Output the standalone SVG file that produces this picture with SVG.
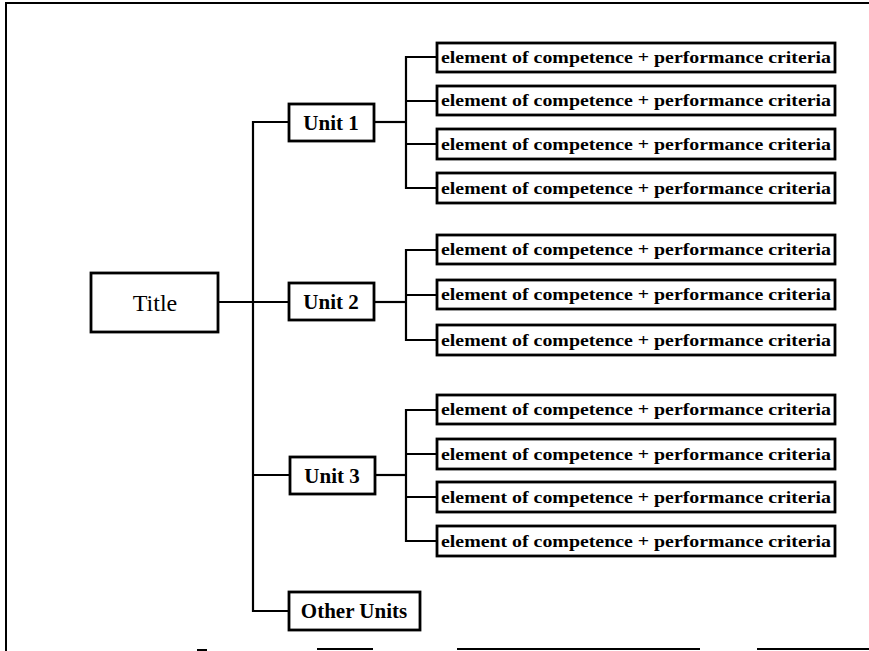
<svg xmlns="http://www.w3.org/2000/svg" width="869" height="651" viewBox="0 0 869 651">
<style>
.box{fill:#fff;stroke:#000;stroke-width:2.8}
.ln{fill:none;stroke:#000;stroke-width:2.2}
.frame{fill:none;stroke:#000;stroke-width:2}
.t{font-family:"Liberation Serif","Times New Roman",serif;font-weight:bold;fill:#000;text-anchor:middle}
.el{font-size:17.5px}
.u{font-size:21px}
.ti{font-size:24px;font-weight:normal}
</style>
<rect width="869" height="651" fill="#fff"/>
<g id="frame">
<path class="frame" d="M6 651 V3 H869"/>
<path class="frame" d="M197 650 H207 M317 649 H373 M457 649 H700 M757 649 H869"/>
</g>
<g id="connectors">
<path class="ln" d="M218 302 H289"/>
<path class="ln" d="M289 122 H253 V611 H289"/>
<path class="ln" d="M253 475 H290"/>
<path class="ln" d="M374 122 H406"/>
<path class="ln" d="M437 57 H406 V188 H437 M406 101 H437 M406 144 H437"/>
<path class="ln" d="M374 302 H406"/>
<path class="ln" d="M437 250 H406 V340 H437 M406 295 H437"/>
<path class="ln" d="M375 475 H406"/>
<path class="ln" d="M437 410 H406 V541 H437 M406 454 H437 M406 497 H437"/>
</g>
<g id="title"><rect class="box" x="91" y="273" width="127" height="59"/><text class="t ti" x="155" y="311">Title</text></g>
<g id="unit1"><rect class="box" x="289" y="104" width="85" height="37"/><text class="t u" x="331" y="130">Unit 1</text></g>
<g id="unit2"><rect class="box" x="289" y="283" width="85" height="37"/><text class="t u" x="331" y="309">Unit 2</text></g>
<g id="unit3"><rect class="box" x="290" y="457" width="85" height="37"/><text class="t u" x="332" y="483">Unit 3</text></g>
<g id="other"><rect class="box" x="289" y="592" width="131" height="38"/><text class="t u" x="354" y="618">Other Units</text></g>
<g id="e1a"><rect class="box" x="437" y="43" width="398" height="29"/><text class="t el" x="636" y="63" textLength="390" lengthAdjust="spacingAndGlyphs">element of competence + performance criteria</text></g>
<g id="e1b"><rect class="box" x="437" y="86" width="398" height="29"/><text class="t el" x="636" y="106" textLength="390" lengthAdjust="spacingAndGlyphs">element of competence + performance criteria</text></g>
<g id="e1c"><rect class="box" x="437" y="129" width="398" height="30"/><text class="t el" x="636" y="150" textLength="390" lengthAdjust="spacingAndGlyphs">element of competence + performance criteria</text></g>
<g id="e1d"><rect class="box" x="437" y="173" width="398" height="30"/><text class="t el" x="636" y="194" textLength="390" lengthAdjust="spacingAndGlyphs">element of competence + performance criteria</text></g>
<g id="e2a"><rect class="box" x="437" y="235" width="398" height="29"/><text class="t el" x="636" y="255" textLength="390" lengthAdjust="spacingAndGlyphs">element of competence + performance criteria</text></g>
<g id="e2b"><rect class="box" x="437" y="280" width="398" height="29"/><text class="t el" x="636" y="300" textLength="390" lengthAdjust="spacingAndGlyphs">element of competence + performance criteria</text></g>
<g id="e2c"><rect class="box" x="437" y="325" width="398" height="30"/><text class="t el" x="636" y="346" textLength="390" lengthAdjust="spacingAndGlyphs">element of competence + performance criteria</text></g>
<g id="e3a"><rect class="box" x="437" y="395" width="398" height="29"/><text class="t el" x="636" y="415" textLength="390" lengthAdjust="spacingAndGlyphs">element of competence + performance criteria</text></g>
<g id="e3b"><rect class="box" x="437" y="439" width="398" height="30"/><text class="t el" x="636" y="460" textLength="390" lengthAdjust="spacingAndGlyphs">element of competence + performance criteria</text></g>
<g id="e3c"><rect class="box" x="437" y="482" width="398" height="30"/><text class="t el" x="636" y="503" textLength="390" lengthAdjust="spacingAndGlyphs">element of competence + performance criteria</text></g>
<g id="e3d"><rect class="box" x="437" y="526" width="398" height="30"/><text class="t el" x="636" y="547" textLength="390" lengthAdjust="spacingAndGlyphs">element of competence + performance criteria</text></g>
</svg>
